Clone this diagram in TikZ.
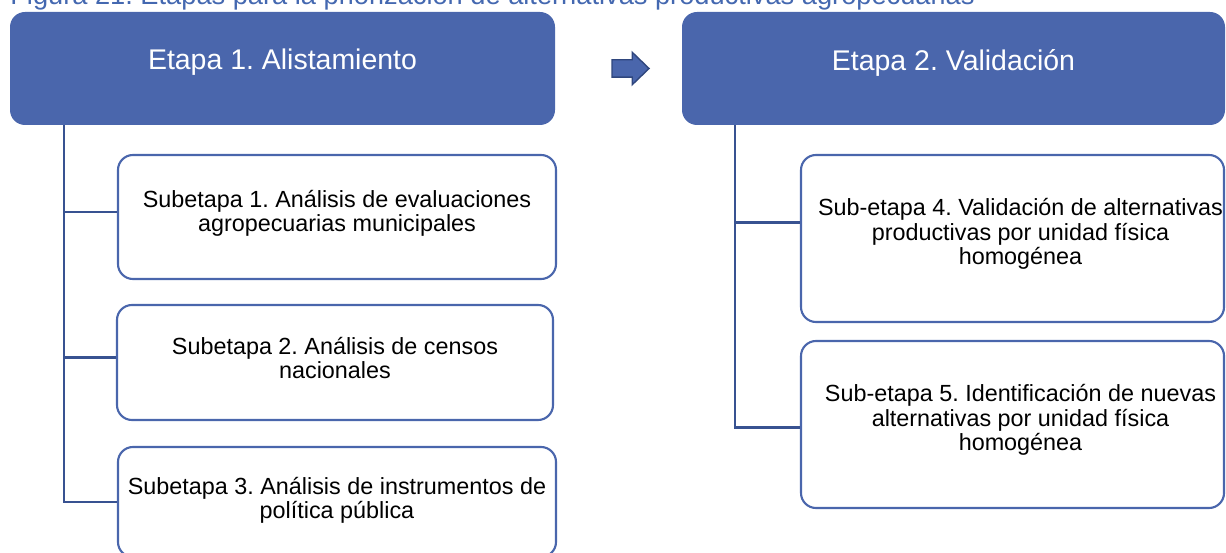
\documentclass[tikz,border=0pt]{standalone}
\usepackage{fontspec}
\setmainfont{Liberation Sans}
\usetikzlibrary{fit,positioning,calc,shapes.arrows}
\definecolor{etapablue}{RGB}{74,102,172}
\definecolor{linkblue}{RGB}{56,82,145}
\definecolor{captionblue}{RGB}{68,104,176}
\definecolor{arrowedge}{RGB}{47,70,125}
\frenchspacing

\begin{document}
\begin{tikzpicture}[x=0.02cm,y=-0.02cm,
    etapa/.style={fill=etapablue,draw=none,rounded corners=0.3cm,inner sep=0pt},
    subetapa/.style={draw=etapablue,line width=1.2pt,rounded corners=0.3cm,inner sep=0pt},
    link/.style={draw=linkblue,line width=1.4pt},
    etext/.style={text=white,font=\fontsize{16.2}{19}\selectfont},
    stext/.style={align=center,font=\fontsize{13.3}{13.8}\selectfont}]
    \useasboundingbox (0,0) rectangle (1226,553);
    \clip (0,0) rectangle (1226,553);

    \node[anchor=base west,inner sep=0pt,text=captionblue,font=\fontsize{15.5}{18}\selectfont] (caption) at (10,5)
    {Figura 21. Etapas para la priorización de alternativas productivas agropecuarias};

    % Etapa 1
    \node[etapa,fit={(10,12) (555,125)}] (etapa1) {};
    \node[etext,yshift=0.12cm] at (etapa1.center) {Etapa 1. Alistamiento};

    \node[subetapa,fit={(118,155) (556,279)}] (sub1) {};
    \node[stext,yshift=0.08cm] at (sub1.center) {Subetapa 1. Análisis de evaluaciones\\agropecuarias municipales};
    \node[subetapa,fit={(117,305) (553,420)}] (sub2) {};
    \node[stext,yshift=0.09cm] at (sub2.center) {Subetapa 2. Análisis de censos\\nacionales};
    \node[subetapa,fit={(118,447) (556,557)}] (sub3) {};
    \node[stext,yshift=0.04cm] at (sub3.center) {Subetapa 3. Análisis de instrumentos de\\política pública};

    \coordinate (trunkL) at (64,0);
    \coordinate (b1) at ($(sub1.west)+(0,-5)$);
    \coordinate (b2) at ($(sub2.west)+(0,-5)$);
    \draw[link] (etapa1.south -| trunkL) |- (sub3.west);
    \draw[link] (trunkL |- b1) -- (b1);
    \draw[link] (trunkL |- b2) -- (b2);

    % flecha entre etapas
    \node[single arrow,draw=arrowedge,fill=etapablue,line width=0.8pt,inner xsep=0pt,inner ysep=0.16cm,
    minimum height=0.74cm,single arrow head extend=0.15cm,
    single arrow tip angle=88] (paso) at (626,68.5) {};

    % Etapa 2
    \node[etapa,fit={(682,12) (1225,125)}] (etapa2) {};
    \node[etext,yshift=0.12cm] at (etapa2.center) {Etapa 2. Validación};

    \node[subetapa,fit={(801,155) (1224,322)}] (sub4) {};
    \node[stext,yshift=0.09cm] at ($(sub4.center)+(8,0)$) {Sub-etapa 4. Validación de alternativas\\productivas por unidad física\\homogénea};
    \node[subetapa,fit={(801,341) (1224,508)}] (sub5) {};
    \node[stext,yshift=0.09cm] at ($(sub5.center)+(8,0)$) {Sub-etapa 5. Identificación de nuevas\\alternativas por unidad física\\homogénea};

    \coordinate (trunkR) at (735,0);
    \coordinate (b4) at ($(sub4.west)+(0,-16)$);
    \coordinate (b5) at ($(sub5.west)+(0,3)$);
    \draw[link] (etapa2.south -| trunkR) |- (b5);
    \draw[link] (trunkR |- b4) -- (b4);
  \end{tikzpicture}
\end{document}
